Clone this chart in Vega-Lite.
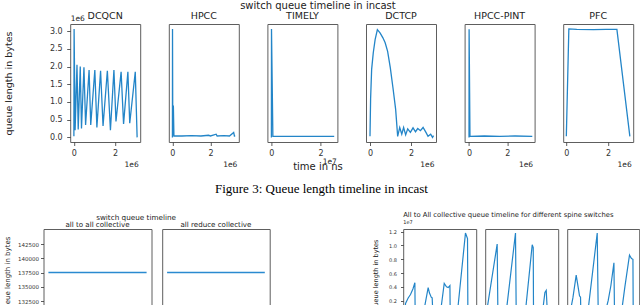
{
  "$schema": "https://vega.github.io/schema/vega-lite/v6.json",
  "padding": {"left": 2.5, "top": 0, "right": 0, "bottom": 0},
  "config": {
    "font": "DejaVu Sans",
    "view": {"stroke": "#5e5e5e", "strokeWidth": 1},
    "axis": {"grid": false, "domain": false, "tickColor": "#333", "tickWidth": 0.8, "labelColor": "#333", "titleColor": "#222", "titleFontWeight": "normal", "labelFont": "DejaVu Sans", "titleFont": "DejaVu Sans"},
    "title": {"color": "#222", "fontWeight": "normal", "font": "DejaVu Sans", "subtitleFont": "DejaVu Sans", "subtitleColor": "#222"}
  },
  "datasets": {
    "top": [
      {"p": "DCQCN", "t": 0, "q": 0.03}, {"p": "DCQCN", "t": 0.01, "q": 3.06}, {"p": "DCQCN", "t": 0.06, "q": 0.2}, {"p": "DCQCN", "t": 0.15, "q": 2.05}, {"p": "DCQCN", "t": 0.21, "q": 0.22}, {"p": "DCQCN", "t": 0.31, "q": 2.0}, {"p": "DCQCN", "t": 0.37, "q": 0.25}, {"p": "DCQCN", "t": 0.49, "q": 1.98}, {"p": "DCQCN", "t": 0.57, "q": 0.35}, {"p": "DCQCN", "t": 0.74, "q": 1.9}, {"p": "DCQCN", "t": 0.82, "q": 0.35}, {"p": "DCQCN", "t": 1.02, "q": 1.9}, {"p": "DCQCN", "t": 1.12, "q": 0.28}, {"p": "DCQCN", "t": 1.3, "q": 1.88}, {"p": "DCQCN", "t": 1.42, "q": 0.32}, {"p": "DCQCN", "t": 1.63, "q": 1.88}, {"p": "DCQCN", "t": 1.78, "q": 0.2}, {"p": "DCQCN", "t": 1.95, "q": 1.9}, {"p": "DCQCN", "t": 2.05, "q": 0.45}, {"p": "DCQCN", "t": 2.3, "q": 1.85}, {"p": "DCQCN", "t": 2.42, "q": 0.38}, {"p": "DCQCN", "t": 2.63, "q": 1.85}, {"p": "DCQCN", "t": 2.72, "q": 0.4}, {"p": "DCQCN", "t": 2.99, "q": 1.85}, {"p": "DCQCN", "t": 3.08, "q": 0.0},
      {"p": "HPCC", "t": 0, "q": 0.0}, {"p": "HPCC", "t": 0.005, "q": 3.06}, {"p": "HPCC", "t": 0.02, "q": 0.05}, {"p": "HPCC", "t": 0.05, "q": 0.9}, {"p": "HPCC", "t": 0.08, "q": 0.04}, {"p": "HPCC", "t": 0.5, "q": 0.04}, {"p": "HPCC", "t": 1.0, "q": 0.05}, {"p": "HPCC", "t": 1.5, "q": 0.04}, {"p": "HPCC", "t": 1.9, "q": 0.06}, {"p": "HPCC", "t": 2.0, "q": 0.04}, {"p": "HPCC", "t": 2.3, "q": 0.09}, {"p": "HPCC", "t": 2.35, "q": 0.04}, {"p": "HPCC", "t": 2.7, "q": 0.05}, {"p": "HPCC", "t": 3.0, "q": 0.04}, {"p": "HPCC", "t": 3.22, "q": 0.14}, {"p": "HPCC", "t": 3.26, "q": 0.04}, {"p": "HPCC", "t": 3.3, "q": 0.05},
      {"p": "TIMELY", "t": 0, "q": 0.0}, {"p": "TIMELY", "t": 0.004, "q": 3.06}, {"p": "TIMELY", "t": 0.06, "q": 0.03}, {"p": "TIMELY", "t": 2.56, "q": 0.03},
      {"p": "DCTCP", "t": 0, "q": 0.03}, {"p": "DCTCP", "t": 0.03, "q": 1.1}, {"p": "DCTCP", "t": 0.08, "q": 1.92}, {"p": "DCTCP", "t": 0.16, "q": 2.39}, {"p": "DCTCP", "t": 0.25, "q": 2.76}, {"p": "DCTCP", "t": 0.36, "q": 3.04}, {"p": "DCTCP", "t": 0.49, "q": 2.95}, {"p": "DCTCP", "t": 0.63, "q": 2.81}, {"p": "DCTCP", "t": 0.74, "q": 2.67}, {"p": "DCTCP", "t": 0.86, "q": 2.43}, {"p": "DCTCP", "t": 0.99, "q": 1.97}, {"p": "DCTCP", "t": 1.12, "q": 1.4}, {"p": "DCTCP", "t": 1.25, "q": 0.8}, {"p": "DCTCP", "t": 1.35, "q": 0.03}, {"p": "DCTCP", "t": 1.45, "q": 0.28}, {"p": "DCTCP", "t": 1.55, "q": 0.09}, {"p": "DCTCP", "t": 1.64, "q": 0.28}, {"p": "DCTCP", "t": 1.74, "q": 0.07}, {"p": "DCTCP", "t": 1.84, "q": 0.24}, {"p": "DCTCP", "t": 1.97, "q": 0.14}, {"p": "DCTCP", "t": 2.1, "q": 0.27}, {"p": "DCTCP", "t": 2.22, "q": 0.16}, {"p": "DCTCP", "t": 2.33, "q": 0.25}, {"p": "DCTCP", "t": 2.46, "q": 0.19}, {"p": "DCTCP", "t": 2.59, "q": 0.28}, {"p": "DCTCP", "t": 2.73, "q": 0.14}, {"p": "DCTCP", "t": 2.83, "q": 0.03}, {"p": "DCTCP", "t": 2.96, "q": 0.09}, {"p": "DCTCP", "t": 3.05, "q": 0.0}, {"p": "DCTCP", "t": 3.1, "q": 0.05},
      {"p": "HPCC-PINT", "t": 0, "q": 0.0}, {"p": "HPCC-PINT", "t": 0.005, "q": 3.05}, {"p": "HPCC-PINT", "t": 0.05, "q": 0.03}, {"p": "HPCC-PINT", "t": 0.8, "q": 0.04}, {"p": "HPCC-PINT", "t": 1.6, "q": 0.03}, {"p": "HPCC-PINT", "t": 2.4, "q": 0.04}, {"p": "HPCC-PINT", "t": 3.3, "q": 0.03},
      {"p": "PFC", "t": 0, "q": 0.03}, {"p": "PFC", "t": 0.12, "q": 3.06}, {"p": "PFC", "t": 0.5, "q": 3.05}, {"p": "PFC", "t": 1.3, "q": 3.04}, {"p": "PFC", "t": 1.9, "q": 3.05}, {"p": "PFC", "t": 2.42, "q": 3.05}, {"p": "PFC", "t": 3.04, "q": 0.03}
    ],
    "coll": [
      {"p": "a2a", "t": 0, "q": 137500}, {"p": "a2a", "t": 1, "q": 137500},
      {"p": "ar", "t": 0, "q": 137500}, {"p": "ar", "t": 1, "q": 137500}
    ],
    "spine": [
      {"p": "s1", "t": 0.021, "q": 0}, {"p": "s1", "t": 0.032, "q": 0.16}, {"p": "s1", "t": 0.068, "q": 0.24}, {"p": "s1", "t": 0.1, "q": 0.29}, {"p": "s1", "t": 0.133, "q": 0.37}, {"p": "s1", "t": 0.16, "q": 0.46}, {"p": "s1", "t": 0.164, "q": 0}, {"p": "s1", "t": 0.274, "q": 0}, {"p": "s1", "t": 0.342, "q": 0.39}, {"p": "s1", "t": 0.36, "q": 0.31}, {"p": "s1", "t": 0.384, "q": 0.25}, {"p": "s1", "t": 0.397, "q": 0.24}, {"p": "s1", "t": 0.407, "q": 0}, {"p": "s1", "t": 0.507, "q": 0}, {"p": "s1", "t": 0.562, "q": 0.45}, {"p": "s1", "t": 0.593, "q": 0.4}, {"p": "s1", "t": 0.616, "q": 0.39}, {"p": "s1", "t": 0.64, "q": 0.42}, {"p": "s1", "t": 0.644, "q": 0}, {"p": "s1", "t": 0.74, "q": 0}, {"p": "s1", "t": 0.853, "q": 1.18}, {"p": "s1", "t": 0.881, "q": 1.1}, {"p": "s1", "t": 0.886, "q": 0}, {"p": "s1", "t": 0.96, "q": 0},
      {"p": "s2", "t": 0.014, "q": 0}, {"p": "s2", "t": 0.164, "q": 1.02}, {"p": "s2", "t": 0.174, "q": 0}, {"p": "s2", "t": 0.284, "q": 0}, {"p": "s2", "t": 0.415, "q": 1.18}, {"p": "s2", "t": 0.425, "q": 0}, {"p": "s2", "t": 0.547, "q": 0}, {"p": "s2", "t": 0.644, "q": 1.01}, {"p": "s2", "t": 0.658, "q": 0.97}, {"p": "s2", "t": 0.662, "q": 0}, {"p": "s2", "t": 0.781, "q": 0}, {"p": "s2", "t": 0.818, "q": 0.32}, {"p": "s2", "t": 0.836, "q": 0.35}, {"p": "s2", "t": 0.853, "q": 0}, {"p": "s2", "t": 0.973, "q": 0},
      {"p": "s3", "t": 0.035, "q": 0}, {"p": "s3", "t": 0.079, "q": 0.24}, {"p": "s3", "t": 0.125, "q": 0.57}, {"p": "s3", "t": 0.153, "q": 0.39}, {"p": "s3", "t": 0.171, "q": 0.27}, {"p": "s3", "t": 0.185, "q": 0.25}, {"p": "s3", "t": 0.19, "q": 0}, {"p": "s3", "t": 0.283, "q": 0}, {"p": "s3", "t": 0.417, "q": 1.18}, {"p": "s3", "t": 0.431, "q": 0}, {"p": "s3", "t": 0.521, "q": 0}, {"p": "s3", "t": 0.569, "q": 0.2}, {"p": "s3", "t": 0.607, "q": 0.42}, {"p": "s3", "t": 0.649, "q": 0.75}, {"p": "s3", "t": 0.657, "q": 0}, {"p": "s3", "t": 0.75, "q": 0}, {"p": "s3", "t": 0.801, "q": 0.4}, {"p": "s3", "t": 0.865, "q": 0.86}, {"p": "s3", "t": 0.893, "q": 0.81}, {"p": "s3", "t": 0.913, "q": 0.8}, {"p": "s3", "t": 0.917, "q": 0}, {"p": "s3", "t": 1.0, "q": 0}
    ]
  },
  "title": {"text": "switch queue timeline in incast", "fontSize": 10, "anchor": "middle", "frame": "bounds", "orient": "top", "baseline": "top", "offset": -0.5, "dx": -3.5},
  "spacing": 11,
  "vconcat": [
    {
      "bounds": "flush",
      "spacing": 0.7,
      "title": {"text": "time in ns", "orient": "bottom", "fontSize": 10, "anchor": "middle", "frame": "bounds", "baseline": "top", "offset": -6.5, "dx": -0.5},
      "hconcat": [
        {"width": 26, "height": 118, "data": {"values": []}, "mark": "rule", "encoding": {}, "view": {"stroke": null}},
        {
          "bounds": "flush",
          "spacing": 28.6,
          "title": {"text": "1e6", "fontSize": 7.5, "anchor": "start", "frame": "group", "baseline": "top", "offset": -12.5, "dx": 0.5},
          "hconcat": [
            {
              "width": 70, "height": 118,
              "title": {"text": "DCQCN", "fontSize": 9.5, "offset": 4, "baseline": "top", "anchor": "middle", "frame": "group"},
              "data": {"name": "top"},
              "transform": [{"filter": "datum.p === 'DCQCN'"}],
              "mark": {"type": "line", "strokeWidth": 1.3, "clip": true, "color": "#2385c8"},
              "encoding": {
                "x": {"field": "t", "type": "quantitative", "scale": {"domain": [-0.18, 3.23], "nice": false, "zero": false}, "axis": {"values": [0, 2], "format": "d", "labelFontSize": 8, "tickSize": 3.5, "labelPadding": 3.5, "labelFlush": false, "title": "1e6", "titleFontSize": 7.5, "titleAlign": "right", "titleBaseline": "alphabetic", "titleX": 68, "titleY": 24.5}},
                "y": {"field": "q", "type": "quantitative", "scale": {"domain": [-0.13, 3.2], "nice": false, "zero": false}, "axis": {"values": [0, 0.5, 1, 1.5, 2, 2.5, 3], "format": ".1f", "labelFontSize": 8, "tickSize": 3.5, "labelPadding": 4.5, "labelFlush": false, "title": "queue length in bytes", "titleFontSize": 9.5, "titleAngle": 270, "titleAlign": "center", "titleBaseline": "alphabetic", "titleX": -58.5, "titleY": 59}}
              }
            },
            {
              "width": 70, "height": 118,
              "title": {"text": "HPCC", "fontSize": 9.5, "offset": 4, "baseline": "top", "anchor": "middle", "frame": "group"},
              "data": {"name": "top"},
              "transform": [{"filter": "datum.p === 'HPCC'"}],
              "mark": {"type": "line", "strokeWidth": 1.3, "clip": true, "color": "#2385c8"},
              "encoding": {
                "x": {"field": "t", "type": "quantitative", "scale": {"domain": [-0.19, 3.49], "nice": false, "zero": false}, "axis": {"values": [0, 2], "format": "d", "labelFontSize": 8, "tickSize": 3.5, "labelPadding": 3.5, "labelFlush": false, "title": "1e6", "titleFontSize": 7.5, "titleAlign": "right", "titleBaseline": "alphabetic", "titleX": 68, "titleY": 24.5}},
                "y": {"field": "q", "type": "quantitative", "scale": {"domain": [-0.13, 3.2], "nice": false, "zero": false}, "axis": null}
              }
            },
            {
              "width": 70, "height": 118,
              "title": {"text": "TIMELY", "fontSize": 9.5, "offset": 4, "baseline": "top", "anchor": "middle", "frame": "group"},
              "data": {"name": "top"},
              "transform": [{"filter": "datum.p === 'TIMELY'"}],
              "mark": {"type": "line", "strokeWidth": 1.3, "clip": true, "color": "#2385c8"},
              "encoding": {
                "x": {"field": "t", "type": "quantitative", "scale": {"domain": [-0.163, 2.69], "nice": false, "zero": false}, "axis": {"values": [0, 2], "format": "d", "labelFontSize": 8, "tickSize": 3.5, "labelPadding": 3.5, "labelFlush": false, "title": "1e7", "titleFontSize": 7.5, "titleAlign": "right", "titleBaseline": "alphabetic", "titleX": 69, "titleY": 21}},
                "y": {"field": "q", "type": "quantitative", "scale": {"domain": [-0.13, 3.2], "nice": false, "zero": false}, "axis": null}
              }
            },
            {
              "width": 70, "height": 118,
              "title": {"text": "DCTCP", "fontSize": 9.5, "offset": 4, "baseline": "top", "anchor": "middle", "frame": "group"},
              "data": {"name": "top"},
              "transform": [{"filter": "datum.p === 'DCTCP'"}],
              "mark": {"type": "line", "strokeWidth": 1.3, "clip": true, "color": "#2385c8"},
              "encoding": {
                "x": {"field": "t", "type": "quantitative", "scale": {"domain": [-0.195, 3.22], "nice": false, "zero": false}, "axis": {"values": [0, 2], "format": "d", "labelFontSize": 8, "tickSize": 3.5, "labelPadding": 3.5, "labelFlush": false, "title": "1e6", "titleFontSize": 7.5, "titleAlign": "right", "titleBaseline": "alphabetic", "titleX": 68, "titleY": 24.5}},
                "y": {"field": "q", "type": "quantitative", "scale": {"domain": [-0.13, 3.2], "nice": false, "zero": false}, "axis": null}
              }
            },
            {
              "width": 70, "height": 118,
              "title": {"text": "HPCC-PINT", "fontSize": 9.5, "offset": 4, "baseline": "top", "anchor": "middle", "frame": "group"},
              "data": {"name": "top"},
              "transform": [{"filter": "datum.p === 'HPCC-PINT'"}],
              "mark": {"type": "line", "strokeWidth": 1.3, "clip": true, "color": "#2385c8"},
              "encoding": {
                "x": {"field": "t", "type": "quantitative", "scale": {"domain": [-0.23, 3.42], "nice": false, "zero": false}, "axis": {"values": [0, 2], "format": "d", "labelFontSize": 8, "tickSize": 3.5, "labelPadding": 3.5, "labelFlush": false, "title": "1e6", "titleFontSize": 7.5, "titleAlign": "right", "titleBaseline": "alphabetic", "titleX": 68, "titleY": 24.5}},
                "y": {"field": "q", "type": "quantitative", "scale": {"domain": [-0.13, 3.2], "nice": false, "zero": false}, "axis": null}
              }
            },
            {
              "width": 70, "height": 118,
              "title": {"text": "PFC", "fontSize": 9.5, "offset": 4, "baseline": "top", "anchor": "middle", "frame": "group"},
              "data": {"name": "top"},
              "transform": [{"filter": "datum.p === 'PFC'"}],
              "mark": {"type": "line", "strokeWidth": 1.3, "clip": true, "color": "#2385c8"},
              "encoding": {
                "x": {"field": "t", "type": "quantitative", "scale": {"domain": [-0.15, 3.2], "nice": false, "zero": false}, "axis": {"values": [0, 2], "format": "d", "labelFontSize": 8, "tickSize": 3.5, "labelPadding": 3.5, "labelFlush": false, "title": "1e6", "titleFontSize": 7.5, "titleAlign": "right", "titleBaseline": "alphabetic", "titleX": 68, "titleY": 24.5}},
                "y": {"field": "q", "type": "quantitative", "scale": {"domain": [-0.13, 3.2], "nice": false, "zero": false}, "axis": null}
              }
            }
          ]
        }
      ]
    },
    {
      "spacing": 100.7,
      "title": {"text": "Figure 3: Queue length timeline in incast", "font": "Liberation Serif", "fontSize": 13, "color": "#000", "anchor": "middle", "frame": "bounds", "baseline": "top", "offset": 16, "dx": 0},
      "hconcat": [
        {
          "bounds": "flush",
          "spacing": 10.7,
          "title": {"text": "switch queue timeline", "fontSize": 7.25, "anchor": "middle", "frame": "bounds", "baseline": "top", "offset": -1.25, "dx": -0.6},
          "hconcat": [
            {
              "width": 108, "height": 77,
              "title": {"text": "all to all collective", "fontSize": 7.1, "offset": 1.4, "baseline": "top", "anchor": "middle", "frame": "group"},
              "data": {"name": "coll"},
              "transform": [{"filter": "datum.p === 'a2a'"}],
              "mark": {"type": "line", "strokeWidth": 1.6, "clip": true, "color": "#2a8ad0"},
              "encoding": {
                "x": {"field": "t", "type": "quantitative", "scale": {"domain": [-0.05, 1.05], "nice": false, "zero": false}, "axis": null},
                "y": {"field": "q", "type": "quantitative", "scale": {"domain": [131623, 145132], "nice": false, "zero": false}, "axis": {"values": [132500, 135000, 137500, 140000, 142500], "format": "d", "labelFontSize": 5.5, "tickSize": 3, "labelPadding": 2, "labelFlush": false, "title": "queue length in bytes", "titleFontSize": 7, "titleAngle": 270, "titleAlign": "center", "titleBaseline": "alphabetic", "titleX": -33.8, "titleY": 45.4}}
              }
            },
            {
              "width": 107.5, "height": 77,
              "title": {"text": "all reduce collective", "fontSize": 7.1, "offset": 1.4, "baseline": "top", "anchor": "middle", "frame": "group"},
              "data": {"name": "coll"},
              "transform": [{"filter": "datum.p === 'ar'"}],
              "mark": {"type": "line", "strokeWidth": 1.6, "clip": true, "color": "#2a8ad0"},
              "encoding": {
                "x": {"field": "t", "type": "quantitative", "scale": {"domain": [-0.05, 1.05], "nice": false, "zero": false}, "axis": null},
                "y": {"field": "q", "type": "quantitative", "scale": {"domain": [131623, 145132], "nice": false, "zero": false}, "axis": null}
              }
            }
          ]
        },
        {
          "bounds": "flush",
          "spacing": 9,
          "title": {"text": "All to All collective queue timeline for different spine switches", "subtitle": "1e7", "fontSize": 6.8, "subtitleFontSize": 5, "subtitlePadding": 1.2, "anchor": "start", "frame": "group", "baseline": "top", "offset": 3.5},
          "hconcat": [
            {
              "width": 73, "height": 77,
              "data": {"name": "spine"},
              "transform": [{"filter": "datum.p === 's1'"}],
              "mark": {"type": "line", "strokeWidth": 1.2, "clip": true, "color": "#2385c8"},
              "encoding": {
                "x": {"field": "t", "type": "quantitative", "scale": {"domain": [0, 1], "nice": false, "zero": false}, "axis": null},
                "y": {"field": "q", "type": "quantitative", "scale": {"domain": [0.123, 1.239], "nice": false, "zero": false}, "axis": {"values": [0.2, 0.4, 0.6, 0.8, 1.0, 1.2], "format": ".1f", "labelFontSize": 5, "tickSize": 2.7, "labelPadding": 4, "labelFlush": false, "title": "queue length in bytes", "titleFontSize": 6.5, "titleAngle": 270, "titleAlign": "center", "titleBaseline": "alphabetic", "titleX": -26, "titleY": 45.6}}
              }
            },
            {
              "width": 73, "height": 77,
              "data": {"name": "spine"},
              "transform": [{"filter": "datum.p === 's2'"}],
              "mark": {"type": "line", "strokeWidth": 1.2, "clip": true, "color": "#2385c8"},
              "encoding": {
                "x": {"field": "t", "type": "quantitative", "scale": {"domain": [0, 1], "nice": false, "zero": false}, "axis": null},
                "y": {"field": "q", "type": "quantitative", "scale": {"domain": [0.123, 1.239], "nice": false, "zero": false}, "axis": null}
              }
            },
            {
              "width": 72, "height": 77,
              "data": {"name": "spine"},
              "transform": [{"filter": "datum.p === 's3'"}],
              "mark": {"type": "line", "strokeWidth": 1.2, "clip": true, "color": "#2385c8"},
              "encoding": {
                "x": {"field": "t", "type": "quantitative", "scale": {"domain": [0, 1], "nice": false, "zero": false}, "axis": null},
                "y": {"field": "q", "type": "quantitative", "scale": {"domain": [0.123, 1.239], "nice": false, "zero": false}, "axis": null}
              }
            }
          ]
        }
      ]
    }
  ]
}
